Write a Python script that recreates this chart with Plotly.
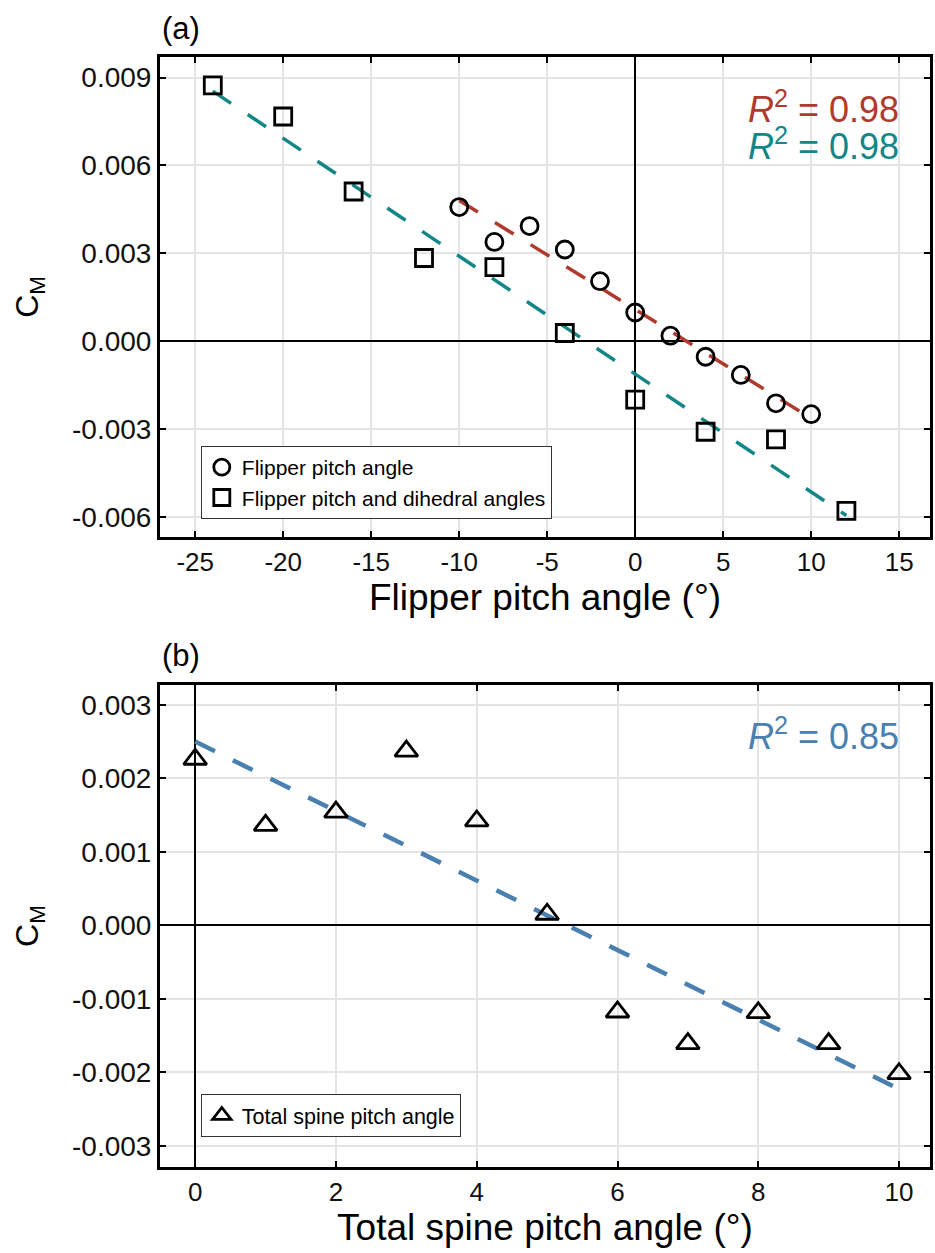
import numpy as np
import plotly.graph_objects as go
from plotly.subplots import make_subplots

# ---------------- data ----------------
# Panel (a)
pitch_x = [-10, -8, -6, -4, -2, 0, 2, 4, 6, 8, 10]
pitch_cm = [0.00458, 0.00339, 0.00393, 0.00313, 0.00205, 0.00098,
            0.00019, -0.00053, -0.00115, -0.00212, -0.00249]
dihedral_x = [-24, -20, -16, -12, -8, -4, 0, 4, 8, 12]
dihedral_cm = [0.00873, 0.00767, 0.00511, 0.00284, 0.00253, 0.00028,
               -0.00199, -0.00309, -0.00335, -0.00579]
# Panel (b)
spine_x = [0, 1, 2, 3, 4, 5, 6, 7, 8, 9, 10]
spine_cm = [0.00226, 0.00136, 0.00154, 0.00237, 0.00142, 0.00015,
            -0.00118, -0.00161, -0.00119, -0.00161, -0.00202]

r2_pitch = "0.98"
r2_dihedral = "0.98"
r2_spine = "0.85"

xa_ticks = [-25, -20, -15, -10, -5, 0, 5, 10, 15]
xa_labels = ["-25", "-20", "-15", "-10", "-5", "0", "5", "10", "15"]
ya_ticks = [-0.006, -0.003, 0.0, 0.003, 0.006, 0.009]
ya_labels = ["-0.006", "-0.003", "0.000", "0.003", "0.006", "0.009"]
xb_ticks = [0, 2, 4, 6, 8, 10]
xb_labels = ["0", "2", "4", "6", "8", "10"]
yb_ticks = [-0.003, -0.002, -0.001, 0.0, 0.001, 0.002, 0.003]
yb_labels = ["-0.003", "-0.002", "-0.001", "0.000", "0.001", "0.002", "0.003"]

RED = "#B03A2E"
TEAL = "#138787"
BLUE = "#4A80B0"
FONT = "Liberation Sans, Arial, sans-serif"

def fit_line(x, y):
    k, b = np.polyfit(x, y, 1)
    xs = np.array([min(x), max(x)], dtype=float)
    return xs, k * xs + b

fig = make_subplots(rows=2, cols=1, vertical_spacing=0.0)

# ---- panel (a)
fx, fy = fit_line(pitch_x, pitch_cm)
fig.add_trace(go.Scatter(x=fx, y=fy, mode="lines", showlegend=False,
                         line=dict(color=RED, width=3.5, dash="22px,20px")), row=1, col=1)
fx, fy = fit_line(dihedral_x, dihedral_cm)
fig.add_trace(go.Scatter(x=fx, y=fy, mode="lines", showlegend=False,
                         line=dict(color=TEAL, width=3.5, dash="22px,20px")), row=1, col=1)
fig.add_trace(go.Scatter(x=pitch_x, y=pitch_cm, mode="markers", name="Flipper pitch angle",
                         legend="legend",
                         marker=dict(symbol="circle-open", size=17, color="black",
                                     line=dict(width=2.8, color="black"))), row=1, col=1)
fig.add_trace(go.Scatter(x=dihedral_x, y=dihedral_cm, mode="markers",
                         name="Flipper pitch and dihedral angles", legend="legend",
                         marker=dict(symbol="square-open", size=17, color="black",
                                     line=dict(width=2.8, color="black"))), row=1, col=1)

# ---- panel (b)
fx, fy = fit_line(spine_x, spine_cm)
fig.add_trace(go.Scatter(x=fx, y=fy, mode="lines", showlegend=False,
                         line=dict(color=BLUE, width=4.5, dash="22px,20px")), row=2, col=1)
fig.add_trace(go.Scatter(x=spine_x, y=spine_cm, mode="markers", name="Total spine pitch angle",
                         legend="legend2",
                         marker=dict(symbol="triangle-up-open", size=20, color="black",
                                     line=dict(width=2.8, color="black"))), row=2, col=1)

axis_common = dict(showline=True, linecolor="black", linewidth=3, mirror="ticks",
                   ticks="inside", ticklen=6, tickwidth=2, tickcolor="black",
                   showgrid=True, gridcolor="#E4E4E4", gridwidth=1.5,
                   zeroline=True, zerolinecolor="black", zerolinewidth=2)

fig.update_xaxes(**axis_common, tickfont=dict(family=FONT, size=26, color="#111111"))
fig.update_yaxes(**axis_common, tickfont=dict(family=FONT, size=28, color="#111111"))

fig.update_layout(
    width=935, height=1253,
    margin=dict(l=160, r=2, t=57, b=86),
    paper_bgcolor="white", plot_bgcolor="white",
    font=dict(family=FONT, color="black"),
    xaxis=dict(domain=[0, 1], range=[-27, 16.75], tickvals=xa_ticks, ticktext=xa_labels,
               title=dict(text="Flipper pitch angle (°)", font=dict(size=37), standoff=4)),
    yaxis=dict(domain=[0.5676, 1.0], range=[-0.00668, 0.0097], tickvals=ya_ticks,
               ticktext=ya_labels,
               title=dict(text="C<sub>M</sub>", font=dict(size=32), standoff=24)),
    xaxis2=dict(domain=[0, 1], range=[-0.5, 10.44], tickvals=xb_ticks, ticktext=xb_labels,
                title=dict(text="Total spine pitch angle (°)", font=dict(size=37), standoff=2)),
    yaxis2=dict(domain=[0.0, 0.4342], range=[-0.00329, 0.00327], tickvals=yb_ticks,
                ticktext=yb_labels,
                title=dict(text="C<sub>M</sub>", font=dict(size=32), standoff=24)),
    legend=dict(x=0.053, y=0.6495, xref="paper", yref="paper", xanchor="left", yanchor="top",
                bordercolor="#333333", borderwidth=1, bgcolor="white",
                font=dict(family=FONT, size=21, color="black"), tracegroupgap=0),
    legend2=dict(x=0.053, y=0.0658, xref="paper", yref="paper", xanchor="left", yanchor="top",
                 bordercolor="#333333", borderwidth=1, bgcolor="white",
                 font=dict(family=FONT, size=21.5, color="black")),
    showlegend=True,
)

annos = [
    dict(text="(a)", x=0.0, y=1.026, xanchor="left", yanchor="middle",
         font=dict(size=31, color="black")),
    dict(text="(b)", x=0.0, y=0.4604, xanchor="left", yanchor="middle",
         font=dict(size=31, color="black")),
    dict(text="<i>R</i><sup>2</sup> = " + r2_pitch, x=0.962, y=0.955, xanchor="right",
         yanchor="middle", font=dict(size=36, color=RED)),
    dict(text="<i>R</i><sup>2</sup> = " + r2_dihedral, x=0.962, y=0.9216, xanchor="right",
         yanchor="middle", font=dict(size=36, color=TEAL)),
    dict(text="<i>R</i><sup>2</sup> = " + r2_spine, x=0.962, y=0.3901, xanchor="right",
         yanchor="middle", font=dict(size=36, color=BLUE)),
]
for a in annos:
    fig.add_annotation(xref="paper", yref="paper", showarrow=False, **a)

fig.write_html("out.html", config={"displayModeBar": False},
               post_script="document.body.style.margin='0px';document.body.style.padding='0px';")
